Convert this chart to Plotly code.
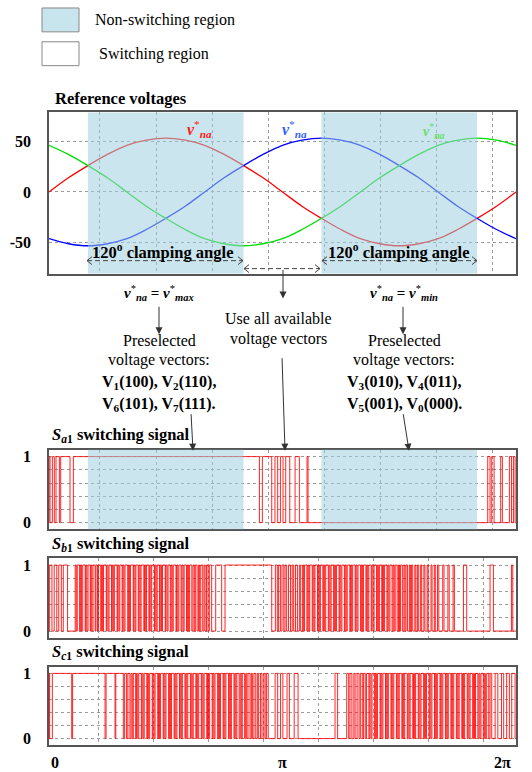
import plotly.graph_objects as go

W, H = 532, 772
def PX(x): return x / W
def PY(y): return 1 - y / H

SERIF = "Liberation Serif, Times New Roman, serif"

# ---------------- data ----------------
theta = [0, 15, 30, 45, 60, 75, 90, 105, 120, 135, 150, 165, 180,
         195, 210, 225, 240, 255, 270, 285, 300, 315, 330, 345, 360]
v_a = [0, 14, 26, 37, 46, 51, 53, 51, 46, 37, 26, 14, 0,
       -14, -26, -37, -46, -51, -53, -51, -46, -37, -26, -14, 0]
v_b = [-46, -51, -53, -51, -46, -37, -26, -14, 0, 14, 26, 37, 46,
       51, 53, 51, 46, 37, 26, 14, 0, -14, -26, -37, -46]
v_c = [46, 37, 26, 14, 0, -14, -26, -37, -46, -51, -53, -51, -46,
       -37, -26, -14, 0, 14, 26, 37, 46, 51, 53, 51, 46]

clamp_regions = [[30, 150], [210, 330]]

sa1_high = [[0, 0.8], [2.6, 4.1], [5.4, 8.0], [9.0, 16.2], [18.8, 162.2], [164.5, 171.7],
            [174.2, 176.3], [178.4, 180.4], [182.5, 185.6], [189.7, 193.0], [198.9, 199.7],
            [338.2, 340.0], [341.3, 343.1], [348.2, 349.5], [354.9, 356.5], [358.0, 359.3]]

sb1_high = [[0.5, 2.3], [4.0, 6.0], [7.5, 9.5], [11.0, 14.3],
            [20.2, 21.0], [21.8, 23.6], [24.2, 25.1], [26.0, 27.9], [28.4, 29.2], [30.1, 31.8],
            [32.3, 33.0], [33.9, 35.6], [36.2, 37.4], [38.1, 39.9], [40.4, 41.3], [42.0, 44.1],
            [44.6, 45.5], [46.3, 48.2], [48.8, 49.6], [50.4, 52.5], [53.0, 53.9], [54.6, 56.4],
            [57.0, 57.8], [58.6, 60.7], [61.2, 62.0], [62.8, 64.9], [65.4, 66.3], [67.0, 68.8],
            [69.4, 70.2], [71.0, 73.1], [73.6, 74.5], [75.2, 77.0], [77.6, 78.5], [79.2, 81.3],
            [81.8, 82.6], [83.4, 85.2], [85.8, 86.7], [87.5, 89.6], [90.1, 91.0], [91.8, 93.5],
            [94.2, 95.0], [95.8, 97.9], [98.4, 99.3], [100.1, 101.8], [102.5, 103.4], [104.2, 106.0],
            [106.7, 107.6], [108.4, 110.1], [111.0, 112.0], [112.8, 114.2], [115.3, 116.1],
            [117.0, 118.5], [119.5, 120.3], [121.4, 122.6], [123.6, 125.4],
            [128.5, 133.1], [135.7, 171.7],
            [174.5, 176.0], [177.0, 178.4], [179.6, 181.0], [182.0, 183.2], [184.6, 186.2],
            [187.5, 188.6], [190.0, 191.5], [193.0, 194.0], [195.5, 196.3], [197.0, 198.8],
            [199.5, 200.3], [201.0, 202.9], [203.5, 204.3], [205.0, 207.0], [207.6, 208.4],
            [209.2, 211.1], [211.7, 212.5], [213.3, 215.3], [215.9, 216.7], [217.5, 219.4],
            [220.0, 220.8], [221.6, 223.6], [224.2, 225.0], [225.8, 227.7], [228.3, 229.1],
            [229.9, 231.9], [232.5, 233.3], [234.1, 236.0], [236.6, 237.4], [238.2, 240.2],
            [240.8, 241.6], [242.4, 244.3], [244.9, 245.7], [246.5, 248.4], [249.0, 249.8],
            [250.6, 252.5], [253.1, 253.9], [254.7, 256.5], [257.1, 257.9], [258.7, 260.5],
            [261.2, 262.0], [262.8, 264.5], [265.3, 266.1], [266.9, 268.4], [269.4, 270.2],
            [271.0, 272.4], [273.6, 274.4], [275.2, 276.4], [277.8, 278.6], [279.4, 280.4],
            [282.0, 282.8], [284.0, 285.0], [286.5, 287.3], [289.0, 289.8], [291.5, 292.3],
            [294.5, 295.3], [297.0, 297.8],
            [299.5, 300.5], [303.5, 304.5], [307.5, 308.5], [311.5, 312.5], [319.5, 322.0],
            [340.0, 342.6], [356.5, 357.5]]

sc1_high = [[0, 0.5], [2.6, 17.5], [18.2, 43.2], [44.0, 50.9], [51.5, 57.3],
            [58.3, 59.8], [60.8, 62.4], [63.3, 64.2], [65.0, 66.8], [67.5, 68.4], [69.2, 71.2],
            [71.8, 72.6], [73.4, 75.4], [76.0, 76.8], [77.6, 79.6], [80.2, 81.0], [81.8, 83.8],
            [84.4, 85.2], [86.0, 88.0], [88.6, 89.4], [90.2, 92.2], [92.8, 93.6], [94.4, 96.4],
            [97.0, 97.8], [98.6, 100.6], [101.2, 102.0], [102.8, 104.8], [105.4, 106.2],
            [107.0, 109.0], [109.6, 110.4], [111.2, 113.2], [113.8, 114.6], [115.4, 117.4],
            [118.0, 118.8], [119.6, 121.6], [122.2, 123.0], [123.8, 125.8], [126.4, 127.2],
            [128.0, 130.0], [130.6, 131.4], [132.2, 134.2], [134.8, 135.6], [136.4, 138.4],
            [139.0, 139.8], [140.6, 142.6], [143.2, 144.0], [144.8, 146.6], [147.4, 148.2],
            [149.0, 150.8], [151.6, 152.4], [153.4, 155.0], [156.0, 156.8], [158.0, 159.4],
            [160.6, 161.6], [163.0, 164.2], [165.6, 166.6], [167.6, 169.0],
            [174.3, 176.3], [178.5, 180.3], [183.5, 185.3], [189.0, 192.0], [220.5, 222.5],
            [229.5, 231.0], [232.0, 233.5], [235.0, 236.0], [237.5, 239.0], [240.0, 241.5],
            [242.5, 243.8], [244.8, 246.6], [247.3, 248.2], [249.0, 251.0], [251.6, 252.4],
            [253.2, 255.2], [255.8, 256.6], [257.4, 259.4], [260.0, 260.8], [261.6, 263.6],
            [264.2, 265.0], [265.8, 267.8], [268.4, 269.2], [270.0, 272.0], [272.6, 273.4],
            [274.2, 276.2], [276.8, 277.6], [278.4, 280.4], [281.0, 281.8], [282.6, 284.6],
            [285.2, 286.0], [286.8, 288.8], [289.4, 290.2], [291.0, 293.0], [293.6, 294.4],
            [295.2, 297.2], [297.8, 298.6], [299.4, 301.4], [302.0, 302.8], [303.6, 305.6],
            [306.2, 307.0], [307.8, 309.8], [310.4, 311.2], [312.0, 314.0], [314.6, 315.4],
            [316.2, 318.2], [318.8, 319.6], [320.4, 322.4], [323.0, 323.8], [324.6, 326.6],
            [327.2, 328.0], [328.8, 330.6], [331.4, 332.2], [333.0, 334.8], [335.6, 336.4],
            [337.4, 339.0], [340.0, 341.3],
            [343.9, 346.0], [348.8, 350.5], [352.8, 354.9], [356.7, 359.3]]

ref_yticks = [-50, 0, 50]
ref_yticktext = ["-50", "0", "50"]
sw_yticks = [0, 0.2, 0.4, 0.6, 0.8, 1]
sw_yticktext = ["0", "", "", "", "", "1"]
x_tickvals = [0, 180, 360]
x_ticktext = ["0", "π", "2π"]


def step_xy(high):
    xs, ys = [0.0], [0]
    for a, b in high:
        xs += [a, b]
        ys += [1, 0]
    xs.append(360.0)
    ys.append(ys[-1])
    return xs, ys


fig = go.Figure()

# reference voltages
for vals, col in [(v_a, "#ff0000"), (v_b, "#0000ff"), (v_c, "#00dd00")]:
    fig.add_trace(go.Scatter(x=theta, y=vals, mode="lines", xaxis="x", yaxis="y",
                             line=dict(color=col, width=1.3, shape="spline", smoothing=1.0),
                             hoverinfo="skip", showlegend=False))

# switching signals
for high, xa, ya in [(sa1_high, "x2", "y2"), (sb1_high, "x3", "y3"), (sc1_high, "x4", "y4")]:
    xs, ys = step_xy(high)
    fig.add_trace(go.Scatter(x=xs, y=ys, mode="lines", xaxis=xa, yaxis=ya,
                             line=dict(color="rgba(255,0,0,0.85)", width=1, shape="hv"),
                             hoverinfo="skip", showlegend=False))

xdom = [PX(49), PX(516)]
frame = dict(showline=True, mirror=True, linecolor="#555", linewidth=1.5, zeroline=False)
grid = dict(showgrid=True, gridcolor="#9a9a9a", griddash="3px,3px", gridwidth=1)
tickf = dict(family=SERIF, size=16, color="black")


def xax(anchor, tick0, dtick):
    return dict(domain=xdom, range=[0, 360], anchor=anchor, tick0=tick0, dtick=dtick,
                showticklabels=False, ticks="", **frame, **grid)


def yax(anchor, dom, rng, tv, tt):
    return dict(domain=dom, range=rng, anchor=anchor, tickvals=tv,
                ticktext=["<b>%s</b>" % t for t in tt], tickfont=tickf,
                ticks="outside", ticklen=13, tickcolor="rgba(0,0,0,0)", **frame, **grid)


shapes = []
# clamping shading (top plot and Sa1)
for xr, yr in [("x", "y domain"), ("x2", "y2 domain")]:
    for a, b in clamp_regions:
        shapes.append(dict(type="rect", xref=xr, yref=yr, x0=a, x1=b, y0=0, y1=1,
                           fillcolor="rgb(158,208,222)", opacity=0.55, line=dict(width=0),
                           layer="above"))

# legend boxes
shapes.append(dict(type="rect", xref="paper", yref="paper", x0=PX(42), x1=PX(79),
                   y0=PY(30), y1=PY(6), fillcolor="#c8e4ec", line=dict(color="#888", width=1)))
shapes.append(dict(type="rect", xref="paper", yref="paper", x0=PX(42), x1=PX(79),
                   y0=PY(64), y1=PY(40), fillcolor="white", line=dict(color="#888", width=1)))


def path_px(points):
    return "M " + " L ".join("%.5f,%.5f" % (PX(x), PY(y)) for x, y in points)


def dashed_double(x0, x1, y):
    shapes.append(dict(type="line", xref="paper", yref="paper", x0=PX(x0), x1=PX(x1),
                       y0=PY(y), y1=PY(y), line=dict(color="#444", width=1, dash="5px,3px")))
    shapes.append(dict(type="path", xref="paper", yref="paper",
                       path=path_px([(x0 + 5, y - 4), (x0, y), (x0 + 5, y + 4)]),
                       line=dict(color="#444", width=1)))
    shapes.append(dict(type="path", xref="paper", yref="paper",
                       path=path_px([(x1 - 5, y - 4), (x1, y), (x1 - 5, y + 4)]),
                       line=dict(color="#444", width=1)))


dashed_double(87, 243, 260)
dashed_double(322, 477, 260)
dashed_double(244, 320, 268)

ann = []


def text(x, y, s, size=16, anchor="center", color="black"):
    ann.append(dict(x=PX(x), y=PY(y), xref="paper", yref="paper", text=s, showarrow=False,
                    xanchor=anchor, yanchor="middle",
                    font=dict(family=SERIF, size=size, color=color)))


def arrow(x0, y0, x1, y1):
    ann.append(dict(x=PX(x1), y=PY(y1), xref="paper", yref="paper", ax=x0 - x1, ay=y0 - y1,
                    axref="pixel", ayref="pixel", text="", showarrow=True, arrowhead=2,
                    arrowsize=1.4, arrowwidth=1, arrowcolor="#333"))


# legend text
text(93, 18, "Non-switching region", 16, "left")
text(97, 52, "Switching region", 16, "left")

# titles
text(53, 97, "<b>Reference voltages</b>", 16.5, "left")
text(50, 435, "<b><i>S</i><sub><i>a</i>1</sub> switching signal</b>", 16.5, "left")
text(50, 545, "<b><i>S</i><sub><i>b</i>1</sub> switching signal</b>", 16.5, "left")
text(50, 653, "<b><i>S</i><sub><i>c</i>1</sub> switching signal</b>", 16.5, "left")

# phase labels
vlab = "<b><i>v</i></b><sup>*</sup><sub><b><i>na</i></b></sub>"
text(199, 128, vlab, 16, color="#ff2020")
text(294, 128, vlab, 16, color="#2f62ff")
text(434, 130, vlab, 14, color="#66e066")

# clamping angle
clamp_txt = "<b>120<sup>o</sup> clamping angle</b>"
text(162, 251, clamp_txt, 16.5)
text(398, 251, clamp_txt, 16.5)

# explanation texts
text(159, 293, "<b><i>v</i></b><sup>*</sup><sub><b><i>na</i></b></sub><b> = </b><b><i>v</i></b><sup>*</sup><sub><b><i>max</i></b></sub>", 15)
text(404, 293, "<b><i>v</i></b><sup>*</sup><sub><b><i>na</i></b></sub><b> = </b><b><i>v</i></b><sup>*</sup><sub><b><i>min</i></b></sub>", 15)
text(159, 340, "Preselected", 16)
text(159, 360, "voltage vectors:", 16)
text(159, 382, "<b>V<sub>1</sub>(100), V<sub>2</sub>(110),</b>", 16)
text(159, 405, "<b>V<sub>6</sub>(101), V<sub>7</sub>(111).</b>", 16)
text(404, 340, "Preselected", 16)
text(404, 360, "voltage vectors:", 16)
text(404, 382, "<b>V<sub>3</sub>(010), V<sub>4</sub>(011),</b>", 16)
text(404, 405, "<b>V<sub>5</sub>(001), V<sub>0</sub>(000).</b>", 16)
text(278, 318, "Use all available", 16)
text(278, 339, "voltage vectors", 16)

# arrows
arrow(283, 268, 283, 298)
arrow(159, 305, 159, 334)
arrow(403, 305, 403, 334)
arrow(191, 413, 193, 451)
arrow(282, 357, 285, 451)
arrow(403, 413, 409, 451)

# bottom x labels
for v, t in zip(x_tickvals, x_ticktext):
    anc = "left" if v == x_tickvals[0] else ("right" if v == x_tickvals[-1] else "center")
    ann.append(dict(x=v, y=PY(764), xref="x4", yref="paper", text="<b>%s</b>" % t,
                    showarrow=False, xanchor=anc, yanchor="middle",
                    xshift=(-3 if anc == "right" else 0),
                    font=dict(family=SERIF, size=16, color="black")))

sw_range = [-0.1, 1.105]
fig.update_layout(
    width=W, height=H, margin=dict(l=0, r=0, t=0, b=0),
    paper_bgcolor="white", plot_bgcolor="rgba(0,0,0,0)", showlegend=False,
    xaxis=xax("y", 39.3, 43.2),
    yaxis=yax("x", [PY(273), PY(111)], [-80.4, 78.4], ref_yticks, ref_yticktext),
    xaxis2=xax("y2", 39.3, 43.2),
    yaxis2=yax("x2", [PY(530), PY(450)], sw_range, sw_yticks, sw_yticktext),
    xaxis3=xax("y3", 37.8, 42.4),
    yaxis3=yax("x3", [PY(639), PY(559)], sw_range, sw_yticks, sw_yticktext),
    xaxis4=xax("y4", 37.8, 42.4),
    yaxis4=yax("x4", [PY(747), PY(668)], sw_range, sw_yticks, sw_yticktext),
    shapes=shapes, annotations=ann,
)

fig.write_html("out.html")
